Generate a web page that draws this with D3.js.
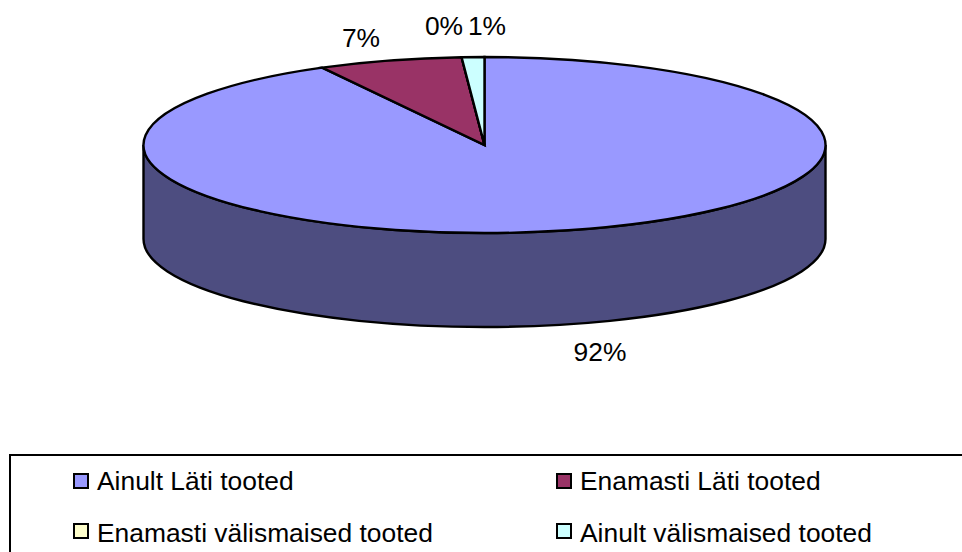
<!DOCTYPE html>
<html>
<head>
<meta charset="utf-8">
<style>
  html, body { margin: 0; padding: 0; background: #fff; overflow: hidden; }
  text { font-family: "Liberation Sans", Arial, sans-serif; font-size: 26.4px; fill: #000; }
</style>
<script src="https://cdn.jsdelivr.net/npm/d3@7/dist/d3.min.js"></script>
</head>
<body>
<div id="chart"></div>
<script>
var categories = ["Ainult Läti tooted", "Enamasti Läti tooted", "Enamasti välismaised tooted", "Ainult välismaised tooted"];
var values = [92.1, 6.83, 0, 1.07];
var colors = ["#9999ff", "#993366", "#ffffcc", "#ccffff"];
var sideColor = "#4d4d80";

var width = 962;
var height = 552;

// pie is a flat disc squashed to an ellipse, with a wall below it
var cx = 484.5, cy = 145, rx = 341, ry = 88, depth = 94;

var svg = d3.select("#chart")
            .append("svg")
            .attr("width", width)
            .attr("height", height);

var pie = d3.pie().sort(null).value(function (d) { return d; });
var arcs = pie(values);
var arc = d3.arc().innerRadius(0).outerRadius(rx);

// wall of the big slice, front half of the ellipse
svg.append("path")
    .attr("d", "M" + (cx - rx) + "," + cy +
               "A" + rx + "," + ry + " 0 0 0 " + (cx + rx) + "," + cy +
               "V" + (cy + depth) +
               "A" + rx + "," + ry + " 0 0 1 " + (cx - rx) + "," + (cy + depth) + "Z")
    .attr("fill", sideColor)
    .attr("stroke", "#000")
    .attr("stroke-width", 2.4);

svg.append("g")
    .attr("transform", "translate(" + cx + "," + cy + ") scale(1," + (ry / rx) + ")")
    .selectAll("path")
    .data(arcs)
    .enter()
    .append("path")
    .attr("d", arc)
    .attr("fill", function (d, i) { return colors[i]; })
    .attr("stroke", "#000")
    .attr("stroke-width", 2.4)
    .attr("vector-effect", "non-scaling-stroke");

// data labels
var labelX = [600, 361, 444, 487];
var labelY = [361, 47, 35, 35];
svg.selectAll("text.label")
    .data(values)
    .enter()
    .append("text")
    .attr("class", "label")
    .attr("text-anchor", "middle")
    .attr("x", function (d, i) { return labelX[i]; })
    .attr("y", function (d, i) { return labelY[i]; })
    .text(function (d) { return Math.round(d) + "%"; });

// legend, box runs off the page on the right and bottom
svg.append("rect")
    .attr("x", 10)
    .attr("y", 455)
    .attr("width", 980)
    .attr("height", 120)
    .attr("fill", "none")
    .attr("stroke", "#000")
    .attr("stroke-width", 2);

var legendX = [74, 557, 74, 557];
var legendY = [474, 474, 524, 524];
var legendBase = [490, 490, 541.5, 541.5];
var legend = svg.selectAll("g.legend")
    .data(categories)
    .enter()
    .append("g")
    .attr("class", "legend")
    .attr("transform", function (d, i) { return "translate(" + legendX[i] + "," + legendY[i] + ")"; });

legend.append("rect")
    .attr("width", 14)
    .attr("height", 14)
    .attr("fill", function (d, i) { return colors[i]; })
    .attr("stroke", "#000")
    .attr("stroke-width", 2);

legend.append("text")
    .attr("x", 23)
    .attr("y", function (d, i) { return legendBase[i] - legendY[i]; })
    .text(function (d) { return d; });
</script>
</body>
</html>
